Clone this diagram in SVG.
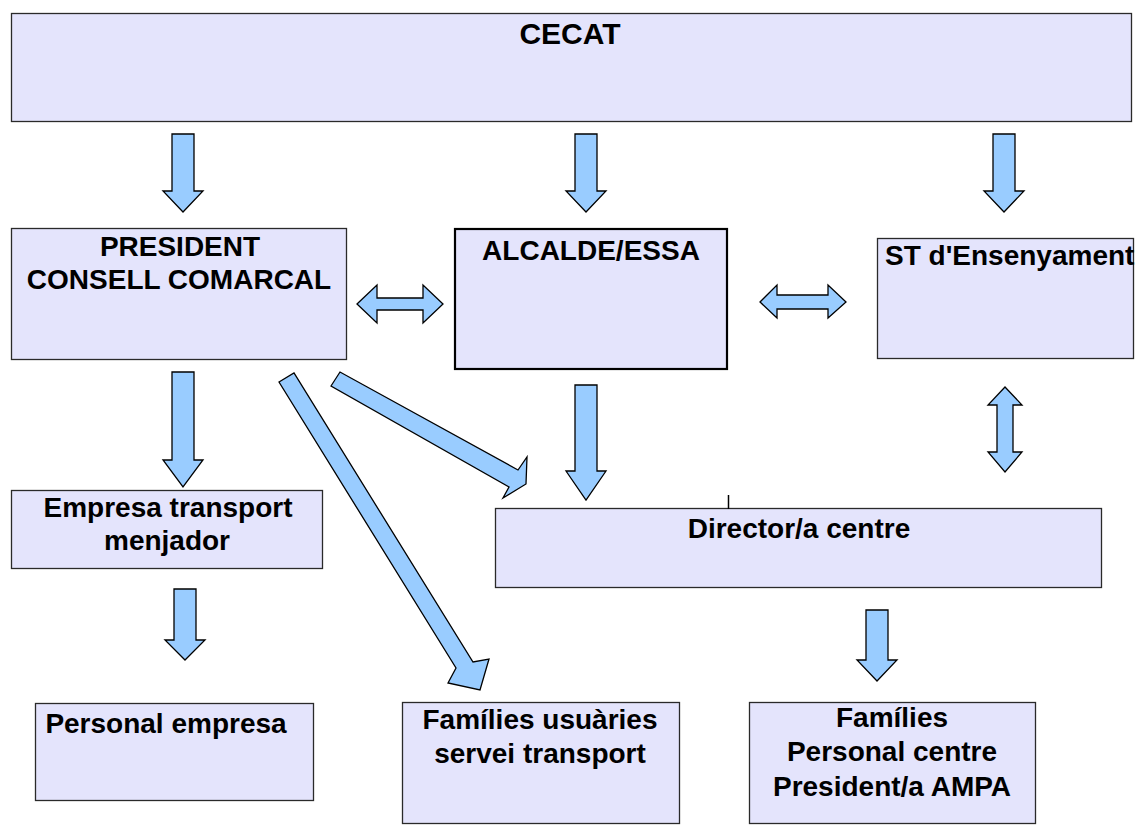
<svg xmlns="http://www.w3.org/2000/svg" width="1136" height="825" viewBox="0 0 1136 825">
<style>
.box{fill:#E4E4FC;stroke:#2a2a2a;stroke-width:1.3}
.thick{stroke:#000;stroke-width:2.2}
.arr{fill:#99CCFF;stroke:#000;stroke-width:1.3;stroke-linejoin:miter}
text{font-family:"Liberation Sans",Arial,sans-serif;font-weight:bold;font-size:28px;fill:#000;text-anchor:middle}
</style>
<rect width="1136" height="825" fill="#fff"/>
<g id="cecat"><rect class="box" x="11.5" y="13.5" width="1120" height="108"/><text x="570" y="44" style="font-size:30px">CECAT</text></g>
<g id="president"><rect class="box" x="11.5" y="228.5" width="335" height="131"/><text x="180" y="256">PRESIDENT</text><text x="179" y="289">CONSELL COMARCAL</text></g>
<g id="alcalde"><rect class="box thick" x="455" y="229" width="272" height="140"/><text x="591" y="260">ALCALDE/ESSA</text></g>
<g id="st"><rect class="box" x="877.5" y="238.5" width="256" height="120"/><text x="885" y="265" style="text-anchor:start">ST d'Ensenyament</text></g>
<g id="empresa"><rect class="box" x="11.5" y="490.5" width="311" height="78"/><text x="168" y="517">Empresa transport</text><text x="167" y="550">menjador</text></g>
<g id="director"><rect class="box" x="495.5" y="508.5" width="606" height="79"/><text x="799" y="538">Director/a centre</text></g>
<g id="personal"><rect class="box" x="35.5" y="703.5" width="278" height="97"/><text x="166" y="733">Personal empresa</text></g>
<g id="families-usuaries"><rect class="box" x="402.5" y="702.5" width="277" height="121"/><text x="540" y="729">Famílies usuàries</text><text x="540" y="763">servei transport</text></g>
<g id="families-centre"><rect class="box" x="749.5" y="702.5" width="286" height="121"/><text x="892" y="727">Famílies</text><text x="892" y="761">Personal centre</text><text x="892" y="796">President/a AMPA</text></g>
<g id="connectors">
<polygon class="arr" points="172,134 194,134 194,191 203,191 183,212 163,191 172,191"/>
<polygon class="arr" points="575,134 597,134 597,191 606,191 586,212 566,191 575,191"/>
<polygon class="arr" points="993,134 1015,134 1015,191 1024,191 1004,212 984,191 993,191"/>
<polygon class="arr" points="172,372 194,372 194,460 203,460 183,487 163,460 172,460"/>
<polygon class="arr" points="575,385 597,385 597,471 606,471 586,500 566,471 575,471"/>
<polygon class="arr" points="174,589 196,589 196,640 205,640 185,660 165,640 174,640"/>
<polygon class="arr" points="866,610 888,610 888,660 897,660 877,681 857,660 866,660"/>
<polygon class="arr" points="357,304 377,285 377,298 423,298 423,285 443,304 423,323 423,310 377,310 377,323"/>
<polygon class="arr" points="760,302 777,285 777,295 828,295 828,285 846,302 828,318 828,309 777,309 777,318"/>
<polygon class="arr" points="1005,387 1022,405 1013,405 1013,452 1022,452 1005,472 988,452 997,452 997,405 988,405"/>
<polygon class="arr" points="331,386 340,372 518,470 527,457 526,484 503,498 509,487"/>
<polygon class="arr" points="279,382 294,373 473,662 489,659 480,690 448,683 456,668"/>
<line x1="728.5" y1="495" x2="728.5" y2="509" stroke="#000" stroke-width="1.5"/>
</g>
</svg>
